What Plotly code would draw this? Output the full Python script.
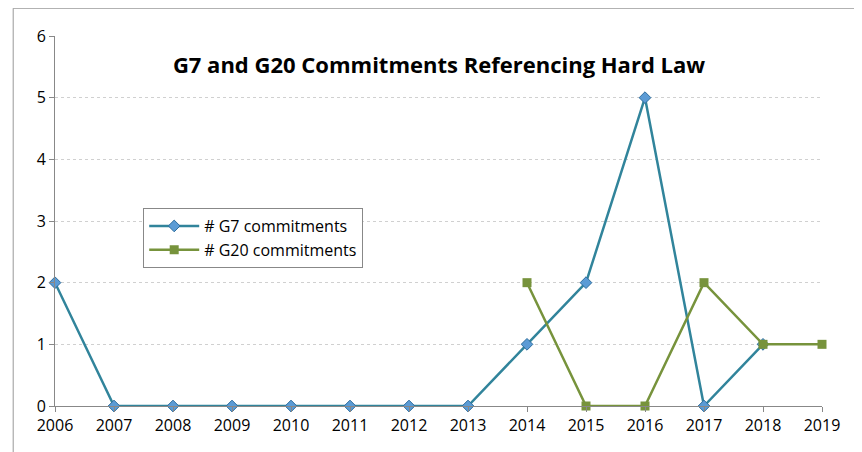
import plotly.graph_objects as go

years = list(range(2006, 2020))
g7_years = list(range(2006, 2019))
g7 = [2, 0, 0, 0, 0, 0, 0, 0, 1, 2, 5, 0, 1]
g20_years = [2014, 2015, 2016, 2017, 2018, 2019]
g20 = [2, 0, 0, 2, 1, 1]

fig = go.Figure()
fig.add_trace(go.Scatter(
    x=g7_years, y=g7, mode="lines+markers", name="# G7 commitments",
    line=dict(color="#31849B", width=2.5),
    marker=dict(symbol="diamond", size=9, color="#5B9BD5",
                line=dict(color="#2E6E9E", width=1)),
    cliponaxis=False,
))
fig.add_trace(go.Scatter(
    x=g20_years, y=g20, mode="lines+markers", name="# G20 commitments",
    line=dict(color="#77933C", width=2.5),
    marker=dict(symbol="square", size=9, color="#77933C"),
    cliponaxis=False,
))
fig.update_layout(
    width=862, height=452,
    plot_bgcolor="white", paper_bgcolor="white",
    font=dict(family="Open Sans, Liberation Sans, Arial", size=16, color="black"),
    margin=dict(l=47, r=48, t=28, b=54, autoexpand=False),
    title=dict(text="<b>G7 and G20 Commitments Referencing Hard Law</b>",
               x=0.5, y=0.89, xanchor="center", font=dict(size=22)),
    xaxis=dict(range=[2006, 2019], tickvals=years, showgrid=False,
               showline=True, linecolor="#888888", ticks="outside",
               tickcolor="#888888", ticklen=5, zeroline=False),
    yaxis=dict(range=[0, 6], dtick=1, showgrid=True, gridcolor="#D0D0D0",
               griddash="dot", showline=True, linecolor="#888888",
               ticks="outside", tickcolor="#888888", ticklen=5, zeroline=False),
    legend=dict(x=0.115, y=0.535, xanchor="left", yanchor="top",
                bordercolor="#888888", borderwidth=1, bgcolor="white",
                font=dict(size=16), tracegroupgap=14, itemwidth=50),
    shapes=[dict(type="rect", xref="paper", yref="paper",
                 x0=-0.0545, x1=1.057, y0=-0.145, y1=1.075,
                 line=dict(color="#999999", width=1))],
)
fig.write_html("out.html")
